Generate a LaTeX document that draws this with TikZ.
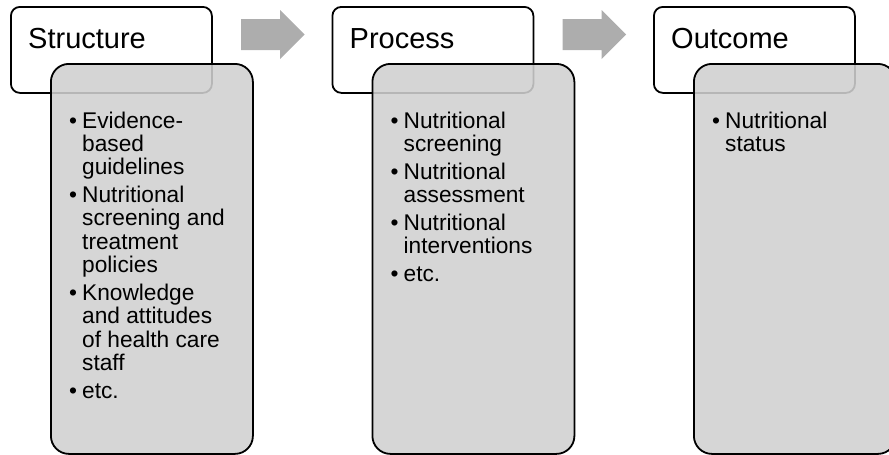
\documentclass[tikz,border=0pt]{standalone}
\usepackage{fontspec}
\setmainfont{Liberation Sans}
\definecolor{boxgray}{RGB}{208,208,208}
\definecolor{arrowgray}{RGB}{173,173,173}
\newcommand\bitem[1]{\par\hangindent=13pt\hangafter=1\noindent\makebox[13pt][l]{•}#1\par}
\newcommand\bgap{\vspace{4.7pt}}
\begin{document}
\begin{tikzpicture}[x=1pt,y=-1pt,
  titlebox/.style={draw=black, line width=1.8pt, fill=white, rounded corners=9pt,
    anchor=north west, minimum width=201pt, minimum height=86pt, inner sep=0pt},
  listbox/.style={draw=black, line width=1.8pt, fill=boxgray, fill opacity=0.88,
    rounded corners=18pt, anchor=north west, minimum width=202pt, minimum height=390pt, inner sep=0pt},
  titletext/.style={anchor=base west, inner sep=0pt, font=\fontsize{29}{34}\selectfont},
  listtext/.style={anchor=base west, inner sep=0pt, font=\fontsize{22.7}{23.3}\selectfont},
  blockarrow/.style={fill=arrowgray, draw=none}]
\useasboundingbox (0,0) rectangle (889,455);
\clip (0,0) rectangle (889,455);

% stage 1
\node[titlebox] (t1) at (10,6) {};
\node[listbox] (l1) at (50,63) {};
\node[titletext] (tt1) at (28,48) {Structure};
\node[listtext] (lt1) at (69,128) {\parbox[t]{180pt}{%
  \bitem{Evidence-\newline based\newline guidelines}\bgap
  \bitem{Nutritional\newline screening and\newline treatment\newline policies}\bgap
  \bitem{Knowledge\newline and attitudes\newline of health care\newline staff}\bgap
  \bitem{etc.}}};

% arrow 1
\fill[blockarrow] (241,19) -- (280,19) -- (280,10) -- (304.5,34.5) -- (280,59) -- (280,50) -- (241,50) -- cycle;

% stage 2
\node[titlebox] (t2) at (331.5,6) {};
\node[listbox] (l2) at (371.5,63) {};
\node[titletext] (tt2) at (349.5,48) {Process};
\node[listtext] (lt2) at (390.5,128) {\parbox[t]{180pt}{%
  \bitem{Nutritional\newline screening}\bgap
  \bitem{Nutritional\newline assessment}\bgap
  \bitem{Nutritional\newline interventions}\bgap
  \bitem{etc.}}};

% arrow 2
\fill[blockarrow] (562.5,19) -- (601.5,19) -- (601.5,10) -- (626,34.5) -- (601.5,59) -- (601.5,50) -- (562.5,50) -- cycle;

% stage 3
\node[titlebox] (t3) at (653,6) {};
\node[listbox] (l3) at (693,63) {};
\node[titletext] (tt3) at (671,48) {Outcome};
\node[listtext] (lt3) at (712,128) {\parbox[t]{170pt}{%
  \bitem{Nutritional\newline status}}};
\end{tikzpicture}
\end{document}
